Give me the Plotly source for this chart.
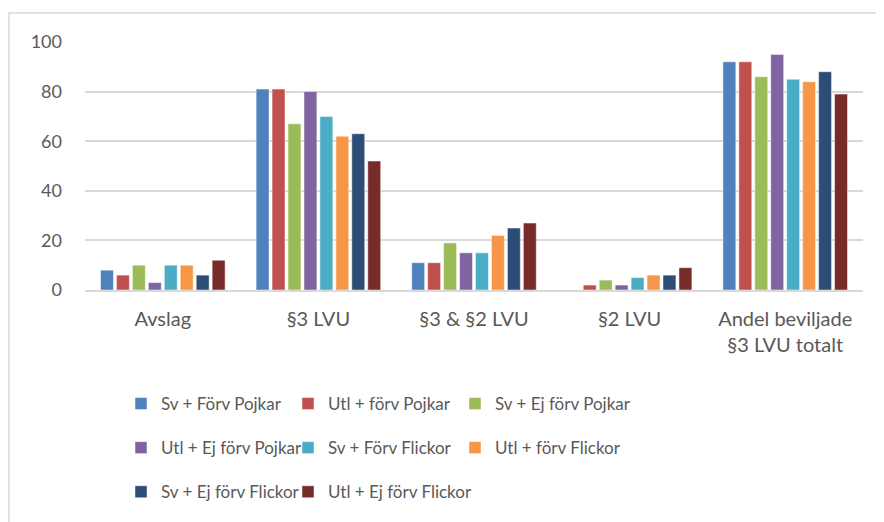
import plotly.graph_objects as go

categories = ["Avslag", "§3 LVU", "§3 & §2 LVU", "§2 LVU", "Andel beviljade<br>§3 LVU totalt"]
series_names = ["Sv + Förv Pojkar", "Utl + förv Pojkar", "Sv + Ej förv Pojkar",
                "Utl + Ej förv Pojkar", "Sv + Förv Flickor", "Utl + förv Flickor",
                "Sv + Ej förv Flickor", "Utl + Ej förv Flickor"]
sv_forv_pojkar = [8, 81, 11, 0, 92]
utl_forv_pojkar = [6, 81, 11, 2, 92]
sv_ejforv_pojkar = [10, 67, 19, 4, 86]
utl_ejforv_pojkar = [3, 80, 15, 2, 95]
sv_forv_flickor = [10, 70, 15, 5, 85]
utl_forv_flickor = [10, 62, 22, 6, 84]
sv_ejforv_flickor = [6, 63, 25, 6, 88]
utl_ejforv_flickor = [12, 52, 27, 9, 79]
values = [sv_forv_pojkar, utl_forv_pojkar, sv_ejforv_pojkar, utl_ejforv_pojkar,
          sv_forv_flickor, utl_forv_flickor, sv_ejforv_flickor, utl_ejforv_flickor]
colors = ["#4F81BD", "#C0504D", "#9BBB59", "#8064A2", "#4BACC6", "#F79646", "#2C4D75", "#772C2A"]
# legend columns (3 columns, filled row by row)
legend_ids = ["legend", "legend2", "legend3", "legend", "legend2", "legend3", "legend", "legend2"]

FONT = "Lato"
TXT = "#595959"
W, H = 876, 514  # page body has an 8px margin

fig = go.Figure()
for i, (name, vals, col, lg) in enumerate(zip(series_names, values, colors, legend_ids)):
    fig.add_trace(go.Bar(x=categories, y=vals, name=name, marker_color=col,
                         marker_line=dict(color="rgba(255,255,255,0.6)", width=0.8),
                         legend=lg, legendgroup="g%d" % i))

legend_common = dict(orientation="v", xref="container", yref="container",
                     xanchor="left", yanchor="top", y=1 - 378 / H,
                     font=dict(family=FONT, size=17, color=TXT),
                     tracegroupgap=19,
                     bgcolor="rgba(0,0,0,0)", traceorder="grouped")

fig.update_layout(
    width=W, height=H,
    margin=dict(l=77, r=21, t=34, b=232, autoexpand=False),
    paper_bgcolor="white", plot_bgcolor="white",
    barmode="group", bargap=0.18, bargroupgap=0.19,
    font=dict(family=FONT, size=17, color=TXT),
    legend=dict(x=113 / W, **legend_common),
    legend2=dict(x=280 / W, **legend_common),
    legend3=dict(x=447 / W, **legend_common),
    xaxis=dict(showgrid=False, showline=True, linecolor="#d9d9d9", linewidth=1.5,
               ticks="", ticklabelstandoff=10,
               tickfont=dict(family=FONT, size=20, color=TXT)),
    yaxis=dict(range=[0, 100], dtick=20, showgrid=True, gridcolor="#d9d9d9", gridwidth=1.5,
               zeroline=False, showline=False, ticks="", ticklabelstandoff=22,
               tickfont=dict(family=FONT, size=18, color=TXT)),
    shapes=[dict(type="rect", xref="paper", yref="paper",
                 x0=(1 - 77) / 778, x1=1.2, y0=-1.5, y1=(282 - 5) / 248,
                 line=dict(color="#d9d9d9", width=1.5), fillcolor="rgba(0,0,0,0)", layer="below")],
)

fig.write_html("out.html")
